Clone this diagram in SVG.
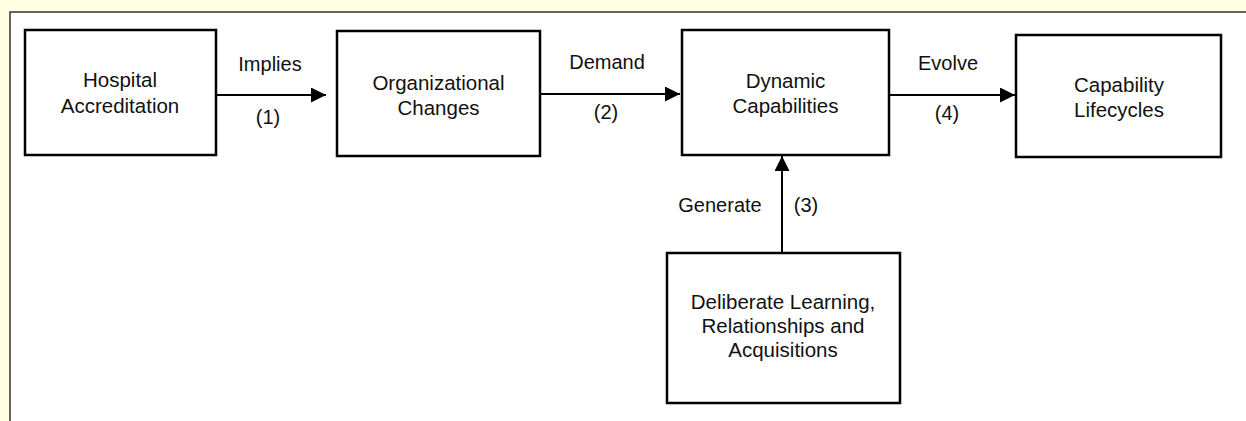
<svg xmlns="http://www.w3.org/2000/svg" width="1246" height="421" viewBox="0 0 1246 421">
<style>
.box{fill:#ffffff;stroke:#000000;stroke-width:2.5}
.t{font-family:"Liberation Sans",Arial,sans-serif;font-size:20.5px;fill:#111111;text-anchor:middle}
.l{font-family:"Liberation Sans",Arial,sans-serif;font-size:20px;fill:#111111;text-anchor:middle}
.c{stroke:#000000;stroke-width:2;fill:none;marker-end:url(#ah)}
</style>
<defs>
<marker id="ah" markerWidth="15" markerHeight="15" refX="15" refY="7.5" orient="auto" markerUnits="userSpaceOnUse">
<path d="M0,0 L15,7.5 L0,15 Z" fill="#000000"/>
</marker>
</defs>
<rect x="0" y="0" width="1246" height="421" fill="#ffffe1"/>
<rect x="10" y="12" width="1236" height="409" fill="#ffffff"/>
<path d="M10,421 L10,12 L1246,12" fill="none" stroke="#333333" stroke-width="1.5"/>
<g id="connectors">
<line class="c" x1="217" y1="95" x2="326" y2="95"/>
<line class="c" x1="540" y1="94" x2="680" y2="94"/>
<line class="c" x1="889" y1="95" x2="1015" y2="95"/>
<line class="c" x1="782" y1="253" x2="782" y2="156"/>
<text class="l" x="270" y="71">Implies</text>
<text class="l" x="268" y="124">(1)</text>
<text class="l" x="607" y="69">Demand</text>
<text class="l" x="606" y="119">(2)</text>
<text class="l" x="720" y="212">Generate</text>
<text class="l" x="806" y="212">(3)</text>
<text class="l" x="948" y="70">Evolve</text>
<text class="l" x="947" y="120">(4)</text>
</g>
<g id="hospital">
<rect class="box" x="25" y="30" width="191" height="125"/>
<text class="t" x="120" y="87">Hospital</text>
<text class="t" x="120" y="113">Accreditation</text>
</g>
<g id="organizational">
<rect class="box" x="337" y="31" width="203" height="125"/>
<text class="t" x="438.5" y="90">Organizational</text>
<text class="t" x="438.5" y="115">Changes</text>
</g>
<g id="dynamic">
<rect class="box" x="682" y="30" width="207" height="125"/>
<text class="t" x="785.5" y="88">Dynamic</text>
<text class="t" x="785.5" y="113">Capabilities</text>
</g>
<g id="lifecycles">
<rect class="box" x="1016" y="35" width="205" height="122"/>
<text class="t" x="1119" y="92">Capability</text>
<text class="t" x="1119" y="117">Lifecycles</text>
</g>
<g id="deliberate">
<rect class="box" x="667" y="253" width="233" height="150"/>
<text class="t" x="783" y="309">Deliberate Learning,</text>
<text class="t" x="783" y="333">Relationships and</text>
<text class="t" x="783" y="357">Acquisitions</text>
</g>
</svg>
